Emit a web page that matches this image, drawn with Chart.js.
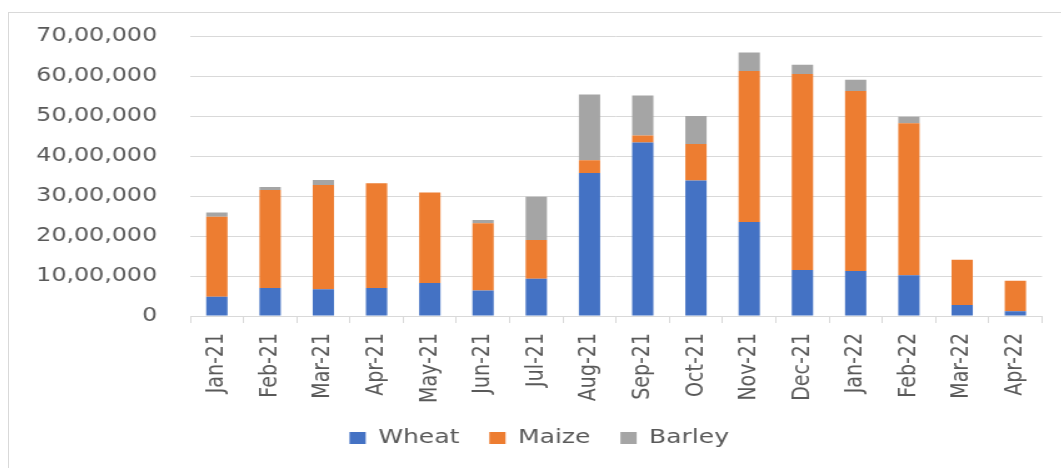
<!DOCTYPE html>
<html>
<head>
<meta charset="utf-8">
<script src="https://cdn.jsdelivr.net/npm/chart.js@4"></script>
<style>
  body { margin: 0; background: #fff; }
  #frame {
    position: absolute; left: 8px; top: 12px; width: 1053px; height: 456px;
    border-left: 1px solid #d9d9d9; border-top: 1px solid #d9d9d9; overflow: hidden;
  }
  /* the picture is stretched sideways, so the chart is drawn narrower and widened */
  #box {
    position: absolute; left: 0; top: 0; width: 842px; height: 455px;
    transform: scaleX(1.25); transform-origin: 0 0;
  }
</style>
</head>
<body>
<div id="frame"><div id="box"><canvas id="grainChart" width="842" height="455"></canvas></div></div>
<script>
const months = ["Jan-21", "Feb-21", "Mar-21", "Apr-21", "May-21", "Jun-21", "Jul-21", "Aug-21",
  "Sep-21", "Oct-21", "Nov-21", "Dec-21", "Jan-22", "Feb-22", "Mar-22", "Apr-22"];
const wheat = [480000, 700000, 670000, 700000, 825000, 640000, 930000, 3575000,
  4340000, 3390000, 2350000, 1150000, 1125000, 1020000, 275000, 120000];
const maize = [2000000, 2450000, 2605000, 2620000, 2260000, 1680000, 970000, 320000,
  170000, 910000, 3775000, 4900000, 4500000, 3800000, 1130000, 760000];
const barley = [110000, 75000, 125000, 0, 0, 80000, 1080000, 1640000,
  1000000, 700000, 460000, 230000, 280000, 160000, 0, 0];
const yTicks = [0, 1000000, 2000000, 3000000, 4000000, 5000000, 6000000, 7000000];

// 70,00,000 style grouping
const indian = (n) => {
  const s = String(Math.round(n));
  if (s.length <= 3) return s;
  const rest = s.slice(0, -3).replace(/\B(?=(\d{2})+(?!\d))/g, ",");
  return rest + "," + s.slice(-3);
};

Chart.defaults.font.family = "'DejaVu Sans', sans-serif";
Chart.defaults.color = "#595959";

const ctx = document.getElementById("grainChart").getContext("2d");

new Chart(ctx, {
  type: "bar",
  data: {
    labels: months,
    datasets: [
      { label: "Wheat", data: wheat, backgroundColor: "#4472c4" },
      { label: "Maize", data: maize, backgroundColor: "#ed7d31" },
      { label: "Barley", data: barley, backgroundColor: "#a5a5a5" }
    ]
  },
  options: {
    responsive: false,
    animation: false,
    layout: { padding: { left: 22, right: 15.6, top: 23, bottom: 10 } },
    datasets: { bar: { categoryPercentage: 1, barPercentage: 0.4, borderWidth: 0 } },
    plugins: {
      tooltip: { enabled: false },
      legend: {
        position: "bottom",
        labels: { boxWidth: 13, boxHeight: 12, padding: 24, font: { size: 20 }, color: "#595959" }
      }
    },
    scales: {
      x: {
        stacked: true,
        grid: { drawOnChartArea: false, drawTicks: true, tickLength: 7, color: "#d9d9d9" },
        border: { color: "#d9d9d9" },
        ticks: { minRotation: 90, maxRotation: 90, autoSkip: false, padding: 10, font: { size: 19 } },
        afterFit: (scale) => { scale.height = 88; }
      },
      y: {
        stacked: true,
        min: 0,
        max: yTicks[yTicks.length - 1],
        afterBuildTicks: (scale) => { scale.ticks = yTicks.map(v => ({ value: v })); },
        // invisible tick marks keep the labels away from the plot
        grid: { drawTicks: true, tickLength: 26.5, tickColor: "rgba(0,0,0,0)", color: "#d9d9d9" },
        border: { display: false },
        ticks: { padding: 0, font: { size: 19 }, callback: (v) => indian(v) },
        afterFit: (scale) => { scale.width = 123; }
      }
    }
  }
});
</script>
</body>
</html>
